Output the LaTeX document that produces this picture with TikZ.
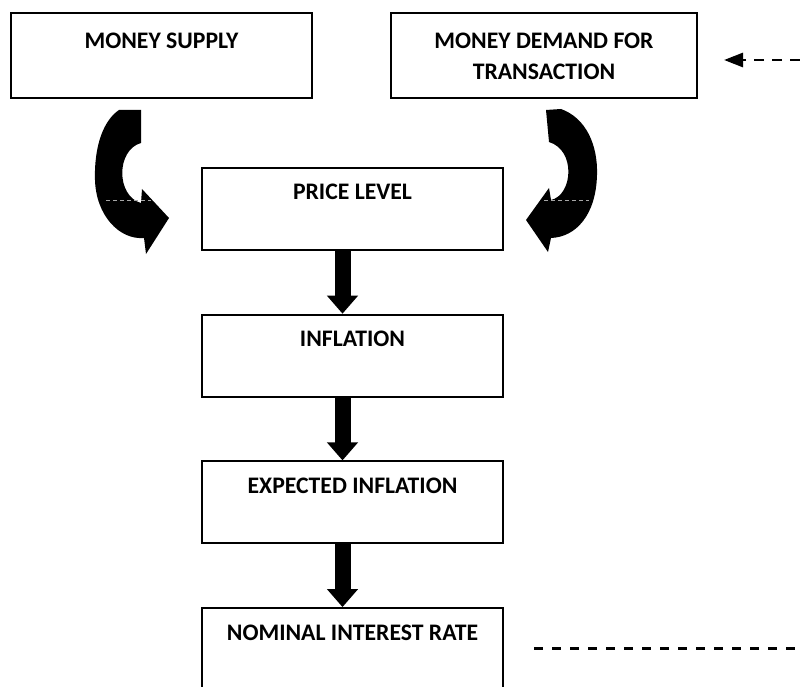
\documentclass[tikz,border=0pt]{standalone}
\usepackage{fontspec}
\setmainfont{Carlito}
\usepackage{tikz}
\usetikzlibrary{positioning,arrows.meta}

\begin{document}
\begin{tikzpicture}[
  x=1pt, y=1pt,
  node distance=146.7pt,
  box/.style={rectangle, draw, line width=2pt, fill=white, inner sep=0pt, minimum width=301pt, text height=32pt, text depth=50pt, align=center, font=\bfseries\fontsize{23.7}{31}\selectfont},
  topbox/.style={box, text height=36pt, text depth=49pt},
  fat/.style={line width=16pt, -{Triangle[width=30pt,length=18pt]}},
  feed/.style={line width=2.8pt, dash pattern=on 10pt off 8pt},
  scanline/.style={gray!70, line width=0.8pt, dash pattern=on 4pt off 3pt}
]
\useasboundingbox (0,0) rectangle (800,-687);

% Top row
\node[topbox] (supply) at (161.5,-55.5) {MONEY SUPPLY};
\node[topbox, minimum width=306pt, text height=67pt, text depth=18pt] (demand) at (544,-55.5) {MONEY DEMAND FOR\\TRANSACTION};

% Main chain
\node[box] (price) at (352.5,-209) {PRICE LEVEL};
\node[box, below of=price] (infl) {INFLATION};
\node[box, below of=infl] (expinfl) {EXPECTED INFLATION};
\node[box, below of=expinfl] (rate) {NOMINAL INTEREST RATE};

% Curved block arrows into price level
\begin{scope}[shift={(price.west)}]
  \fill (-60,99) -- (-60,66) .. controls (-85,59) and (-85,13) .. (-60,6) -- (-59,20) -- (-32,-9) -- (-55,-45) -- (-57,-29)
    .. controls (-82,-31) and (-105,-6) .. (-106,29) .. controls (-107,64) and (-97,89) .. (-82,99) -- cycle;
  \draw[scanline] (-95,9) -- (-50,9);
\end{scope}
\begin{scope}[shift={(price.east)}]
  \fill (42,99) -- (57,100) .. controls (82,91) and (94,64) .. (93,34) .. controls (92,-6) and (72,-28) .. (47,-29) -- (44,-43) -- (22,-11)
    -- (45,21) -- (47,9) .. controls (69,14) and (72,59) .. (45,67) -- cycle;
  \draw[scanline] (40,9) -- (85,9);
\end{scope}

% Down arrows
\draw[fat] ([xshift=-10pt]price.south) -- ([xshift=-10pt]infl.north);
\draw[fat] ([xshift=-10pt]infl.south) -- ([xshift=-10pt]expinfl.north);
\draw[fat] ([xshift=-10pt]expinfl.south) -- ([xshift=-10pt]rate.north);

% Dashed feedback lines
\coordinate (fbtip) at ([xshift=26pt,yshift=-4.5pt]demand.east);
\coordinate (fbend) at (800,-60);
\draw[feed, -{Triangle[width=14pt,length=19pt]}] (fbend) -- (fbtip);
\coordinate (rateout) at ([xshift=30pt,yshift=1pt]rate.east);
\draw[feed, dash pattern=on 9pt off 9pt] (rateout) -- (rateout -| fbend);

\end{tikzpicture}
\end{document}
